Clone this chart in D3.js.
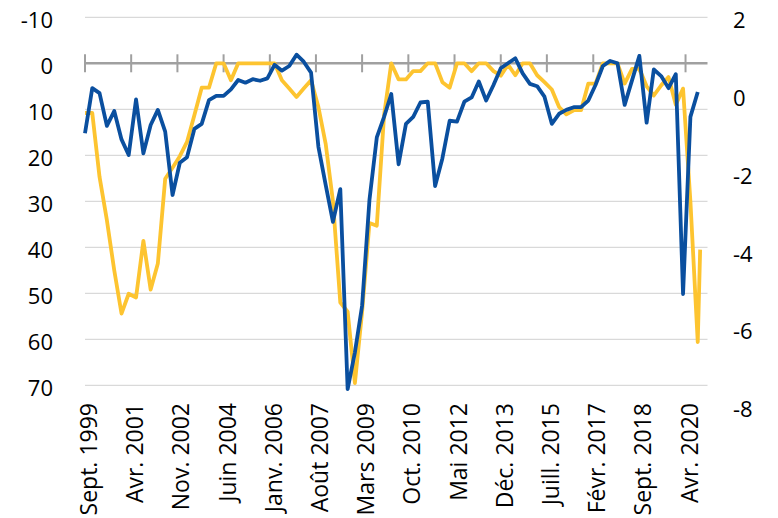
<!DOCTYPE html>
<html>
<head>
<meta charset="utf-8">
<script src="https://cdn.jsdelivr.net/npm/d3@7"></script>
<style>
  html, body { margin: 0; padding: 0; background: #fff; }
  svg { display: block; }
  text { font-family: "Open Sans", "Noto Sans", sans-serif; fill: #000; }
</style>
</head>
<body>
<svg id="chart" width="778" height="518"></svg>
<script>
// ---- data ----
const startMonth = "1999-09";
const tickDates = ["1999-09","2001-04","2002-11","2004-06","2006-01","2007-08","2009-03",
                   "2010-10","2012-05","2013-12","2015-07","2017-02","2018-09","2020-04"];
const tickLabels = ["Sept. 1999","Avr. 2001","Nov. 2002","Juin 2004","Janv. 2006","Août 2007","Mars 2009",
                    "Oct. 2010","Mai 2012","Déc. 2013","Juill. 2015","Févr. 2017","Sept. 2018","Avr. 2020"];
const leftTicks = [-10, 0, 10, 20, 30, 40, 50, 60, 70];
const rightTicks = [2, 0, -2, -4, -6, -8];

// blue series (right axis), quarterly from Sept. 1999
const blueValues = [
  -0.96, 0.20, 0.07, -0.77, -0.39, -1.12, -1.52, -0.09, -1.48, -0.75,
  -0.36, -0.92, -2.55, -1.72, -1.58, -0.85, -0.72, -0.11, 0.00, 0.00,
  0.17, 0.41, 0.34, 0.43, 0.39, 0.45, 0.80, 0.65, 0.77, 1.06,
  0.88, 0.60, -1.31, -2.29, -3.24, -2.40, -7.55, -6.60, -5.40, -2.68,
  -1.07, -0.54, 0.05, -1.76, -0.72, -0.54, -0.17, -0.15, -2.32, -1.61,
  -0.64, -0.66, -0.15, -0.04, 0.37, -0.12, 0.28, 0.71, 0.84, 0.97,
  0.58, 0.31, 0.25, -0.02, -0.72, -0.46, -0.36, -0.29, -0.29, -0.12,
  0.28, 0.77, 0.90, 0.84, -0.23, 0.40, 1.03, -0.69, 0.68, 0.51,
  0.20, 0.56, -5.10, -0.54, 0.10
];
// yellow series (left axis, inverted), quarterly from Sept. 1999 + last month
const yellowValues = [
  10.8, 10.8, 24.7, 34.1, 45.0, 54.4, 50.1, 50.9, 38.6, 49.2,
  43.5, 25.1, 22.7, 20.2, 17.1, 11.3, 5.3, 5.3, 0, 0,
  3.7, 0, 0, 0, 0, 0, 0, 3.7, 5.5, 7.3,
  5.5, 3.7, 9.5, 17.5, 30.0, 52.0, 54.0, 69.5, 54.0, 34.7,
  35.3, 11.3, 0, 3.5, 3.5, 1.7, 1.7, 0, 0, 4.1,
  5.3, 0, 0, 1.7, 0, 0, 1.7, 2.7, 0.3, 2.6,
  0, 0, 2.6, 4.1, 5.7, 9.5, 11.1, 10.2, 10.2, 4.4,
  4.4, 0, 0, 0, 4.4, 1.2, 1.2, 5.0, 7.0, 4.8,
  3.0, 9.0, 5.5, 30.0, 60.6
];
const yellowExtraDate = "2020-10";
const yellowExtraValue = 40.5;

// ---- build ----
const parseM = d3.timeParse("%Y-%m");
const start = parseM(startMonth);
const blueData = blueValues.map((v, i) => ({ date: d3.timeMonth.offset(start, 3 * i), v }));
const yellowData = yellowValues.map((v, i) => ({ date: d3.timeMonth.offset(start, 3 * i), v }));
yellowData.push({ date: parseM(yellowExtraDate), v: yellowExtraValue });

const svg = d3.select("#chart");
const x = d3.scaleTime().domain([start, parseM("2021-01")]).range([85, 707.5]);
const yL = d3.scaleLinear().domain([-10, 70]).range([17.3, 385.3]);
const yR = d3.scaleLinear().domain([2, -8]).range([18.2, 406.7]);

// gridlines
svg.append("g").selectAll("line").data(leftTicks.filter(d => d !== 0)).join("line")
  .attr("x1", 85).attr("x2", 707.5)
  .attr("y1", d => yL(d)).attr("y2", d => yL(d))
  .attr("stroke", "#d9d9d9").attr("stroke-width", 1.2);

// zero axis line with cross ticks
const xAxisG = svg.append("g").attr("transform", `translate(0,${yL(0)})`);
xAxisG.append("line").attr("x1", 85).attr("x2", 707.5).attr("y1", 0).attr("y2", 0)
  .attr("stroke", "#a0a0a0").attr("stroke-width", 2.5);
xAxisG.selectAll("line.tick").data(tickDates).join("line").attr("class", "tick")
  .attr("x1", d => x(parseM(d))).attr("x2", d => x(parseM(d)))
  .attr("y1", -9).attr("y2", 9)
  .attr("stroke", "#a0a0a0").attr("stroke-width", 2);

// left labels
svg.append("g").selectAll("text").data(leftTicks).join("text")
  .attr("x", 53).attr("y", d => yL(d) + 2.5).attr("dy", "0.35em")
  .attr("text-anchor", "end").attr("font-size", 22).text(d => d);

// right labels
svg.append("g").selectAll("text").data(rightTicks).join("text")
  .attr("x", 733).attr("y", d => yR(d) + 2.5).attr("dy", "0.35em")
  .attr("text-anchor", "start").attr("font-size", 22).text(d => d);

// x labels
svg.append("g").selectAll("text").data(tickDates).join("text")
  .attr("transform", d => `translate(${x(parseM(d)) + 4},403) rotate(-90)`)
  .attr("dy", "0.35em").attr("text-anchor", "end").attr("font-size", 23)
  .text((d, i) => tickLabels[i]);

// lines
const lineL = d3.line().x(d => x(d.date)).y(d => yL(d.v));
const lineR = d3.line().x(d => x(d.date)).y(d => yR(d.v));
svg.append("path").datum(yellowData).attr("d", lineL)
  .attr("fill", "none").attr("stroke", "#fdc430").attr("stroke-width", 3.8)
  .attr("stroke-linejoin", "round");
svg.append("path").datum(blueData).attr("d", lineR)
  .attr("fill", "none").attr("stroke", "#0a4f9f").attr("stroke-width", 3.8)
  .attr("stroke-linejoin", "round");
</script>
</body>
</html>
